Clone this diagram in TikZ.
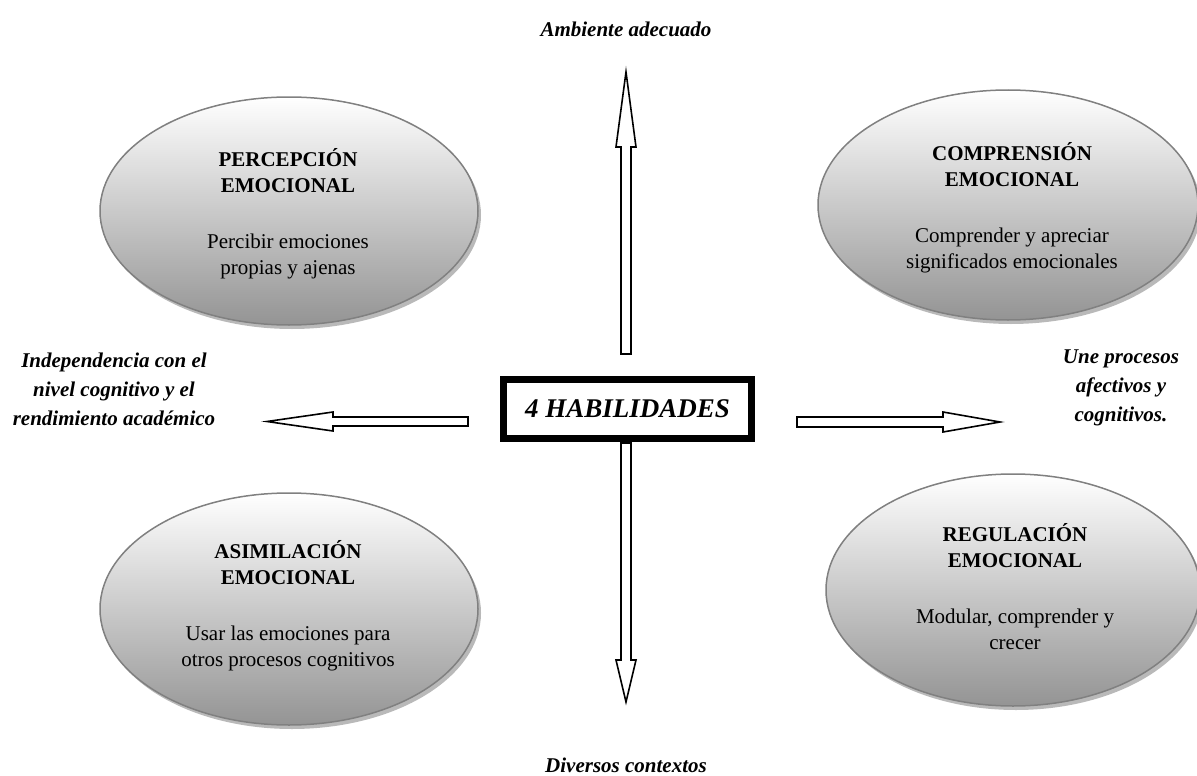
\documentclass[tikz,border=0pt]{standalone}
\usepackage{fontspec}
\setmainfont{Liberation Serif}
\usetikzlibrary{shapes.geometric,shadows}
\begin{document}
\begin{tikzpicture}[x=1pt,y=-1pt,
  skill/.style={ellipse, draw=black!50, line width=1.5pt, top color=white,
    bottom color=black!42, inner sep=0pt,
    drop shadow={shadow xshift=3pt, shadow yshift=-4pt, fill=black!50, opacity=0.55}},
  skilltext/.style={align=center, font=\fontsize{21}{26}\selectfont},
  sidelabel/.style={align=center, font=\fontsize{21}{29}\selectfont\bfseries\itshape},
  blockarrow/.style={draw=black, line width=1.6pt, fill=white, line join=miter}
]
\useasboundingbox (0,0) rectangle (1197,776);

% the four abilities
\node[skill, minimum width=378pt, minimum height=228pt] (perc) at (289,211) {};
\node[skilltext] (perctext) at (288,214)
  {{\bfseries PERCEPCIÓN}\\{\bfseries EMOCIONAL}\\[30pt]Percibir emociones\\propias y ajenas};

\node[skill, minimum width=380pt, minimum height=230pt] (comp) at (1008,205) {};
\node[skilltext] (comptext) at (1012,208)
  {{\bfseries COMPRENSIÓN}\\{\bfseries EMOCIONAL}\\[30pt]Comprender y apreciar\\significados emocionales};

\node[skill, minimum width=378pt, minimum height=232pt] (asim) at (289,609) {};
\node[skilltext] (asimtext) at (288,606)
  {{\bfseries ASIMILACIÓN}\\{\bfseries EMOCIONAL}\\[30pt]Usar las emociones para\\otros procesos cognitivos};

\node[skill, minimum width=374pt, minimum height=232pt] (regu) at (1013,590) {};
\node[skilltext] (regutext) at (1015,587)
  {{\bfseries REGULACIÓN}\\{\bfseries EMOCIONAL}\\[30pt]Modular, comprender y\\crecer};

% central box
\node[draw, line width=7pt, minimum width=248pt, minimum height=59pt, inner sep=0pt,
  font=\fontsize{27}{32}\selectfont\bfseries\itshape] (hab) at (627.5,409) {4 HABILIDADES};

% block arrows
\draw[blockarrow] (621,354) -- (621,147) -- (616,147) -- (626,72) -- (636,147)
  -- (631,147) -- (631,354) -- cycle;
\draw[blockarrow] (621,443) -- (621,660) -- (616,660) -- (626,702) -- (636,660)
  -- (631,660) -- (631,443) -- cycle;
\draw[blockarrow] (468,417) -- (333,417) -- (333,412) -- (267,421.5) -- (333,431)
  -- (333,426) -- (468,426) -- cycle;
\draw[blockarrow] (797,417) -- (943,417) -- (943,412) -- (1000,422) -- (943,432)
  -- (943,427) -- (797,427) -- cycle;

% arrow labels
\node[sidelabel] (amb) at (626,29) {Ambiente adecuado};
\node[sidelabel] (div) at (626,765) {Diversos contextos};
\node[sidelabel] (indep) at (114,389) {Independencia con el\\nivel cognitivo y el\\rendimiento académico};
\node[sidelabel] (une) at (1121,388) {Une procesos\\afectivos y\\cognitivos.};
\end{tikzpicture}
\end{document}
